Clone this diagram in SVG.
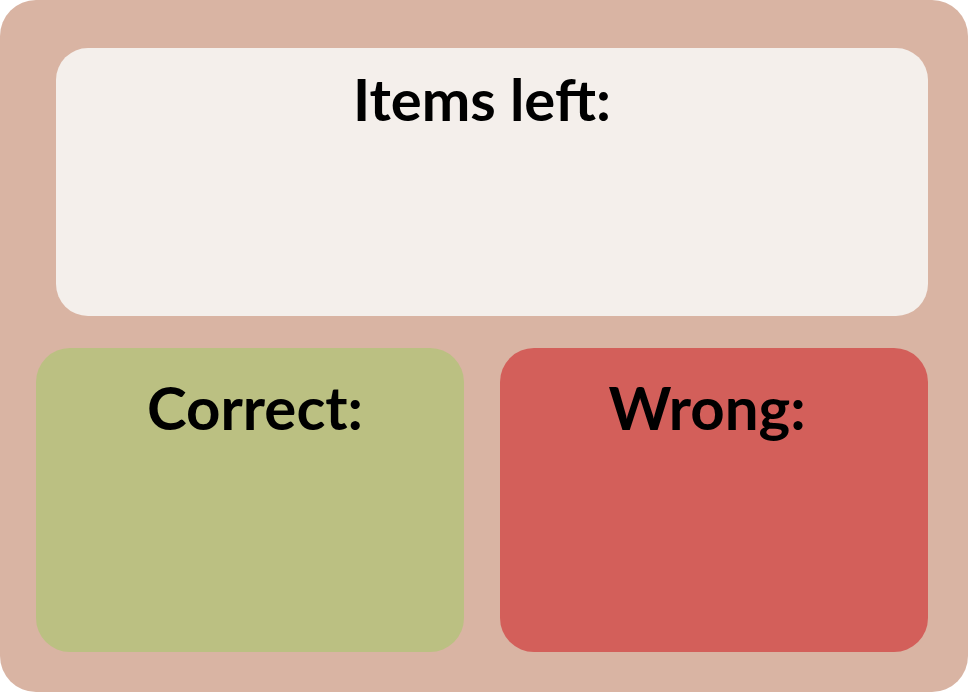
<svg xmlns="http://www.w3.org/2000/svg" width="968" height="692" viewBox="0 0 968 692">
<style>
.t{font-family:"Lato","Noto Sans",sans-serif;font-weight:bold;font-size:58px;fill:#000;text-anchor:middle}
.b{font-size:60px}
</style>
<rect x="0" y="0" width="968" height="692" rx="36" fill="#D9B4A3"/>
<g id="items-left">
<rect x="56" y="48" width="872" height="268" rx="32" fill="#F4EFEB"/>
<text class="t" x="482" y="121">Items left:</text>
</g>
<g id="correct">
<rect x="36" y="348" width="428" height="304" rx="34" fill="#BBC082"/>
<text class="t b" x="255" y="430">Correct:</text>
</g>
<g id="wrong">
<rect x="500" y="348" width="428" height="304" rx="34" fill="#D35F5A"/>
<text class="t b" x="707" y="430">Wrong:</text>
</g>
<g id="connectors"></g>
</svg>
